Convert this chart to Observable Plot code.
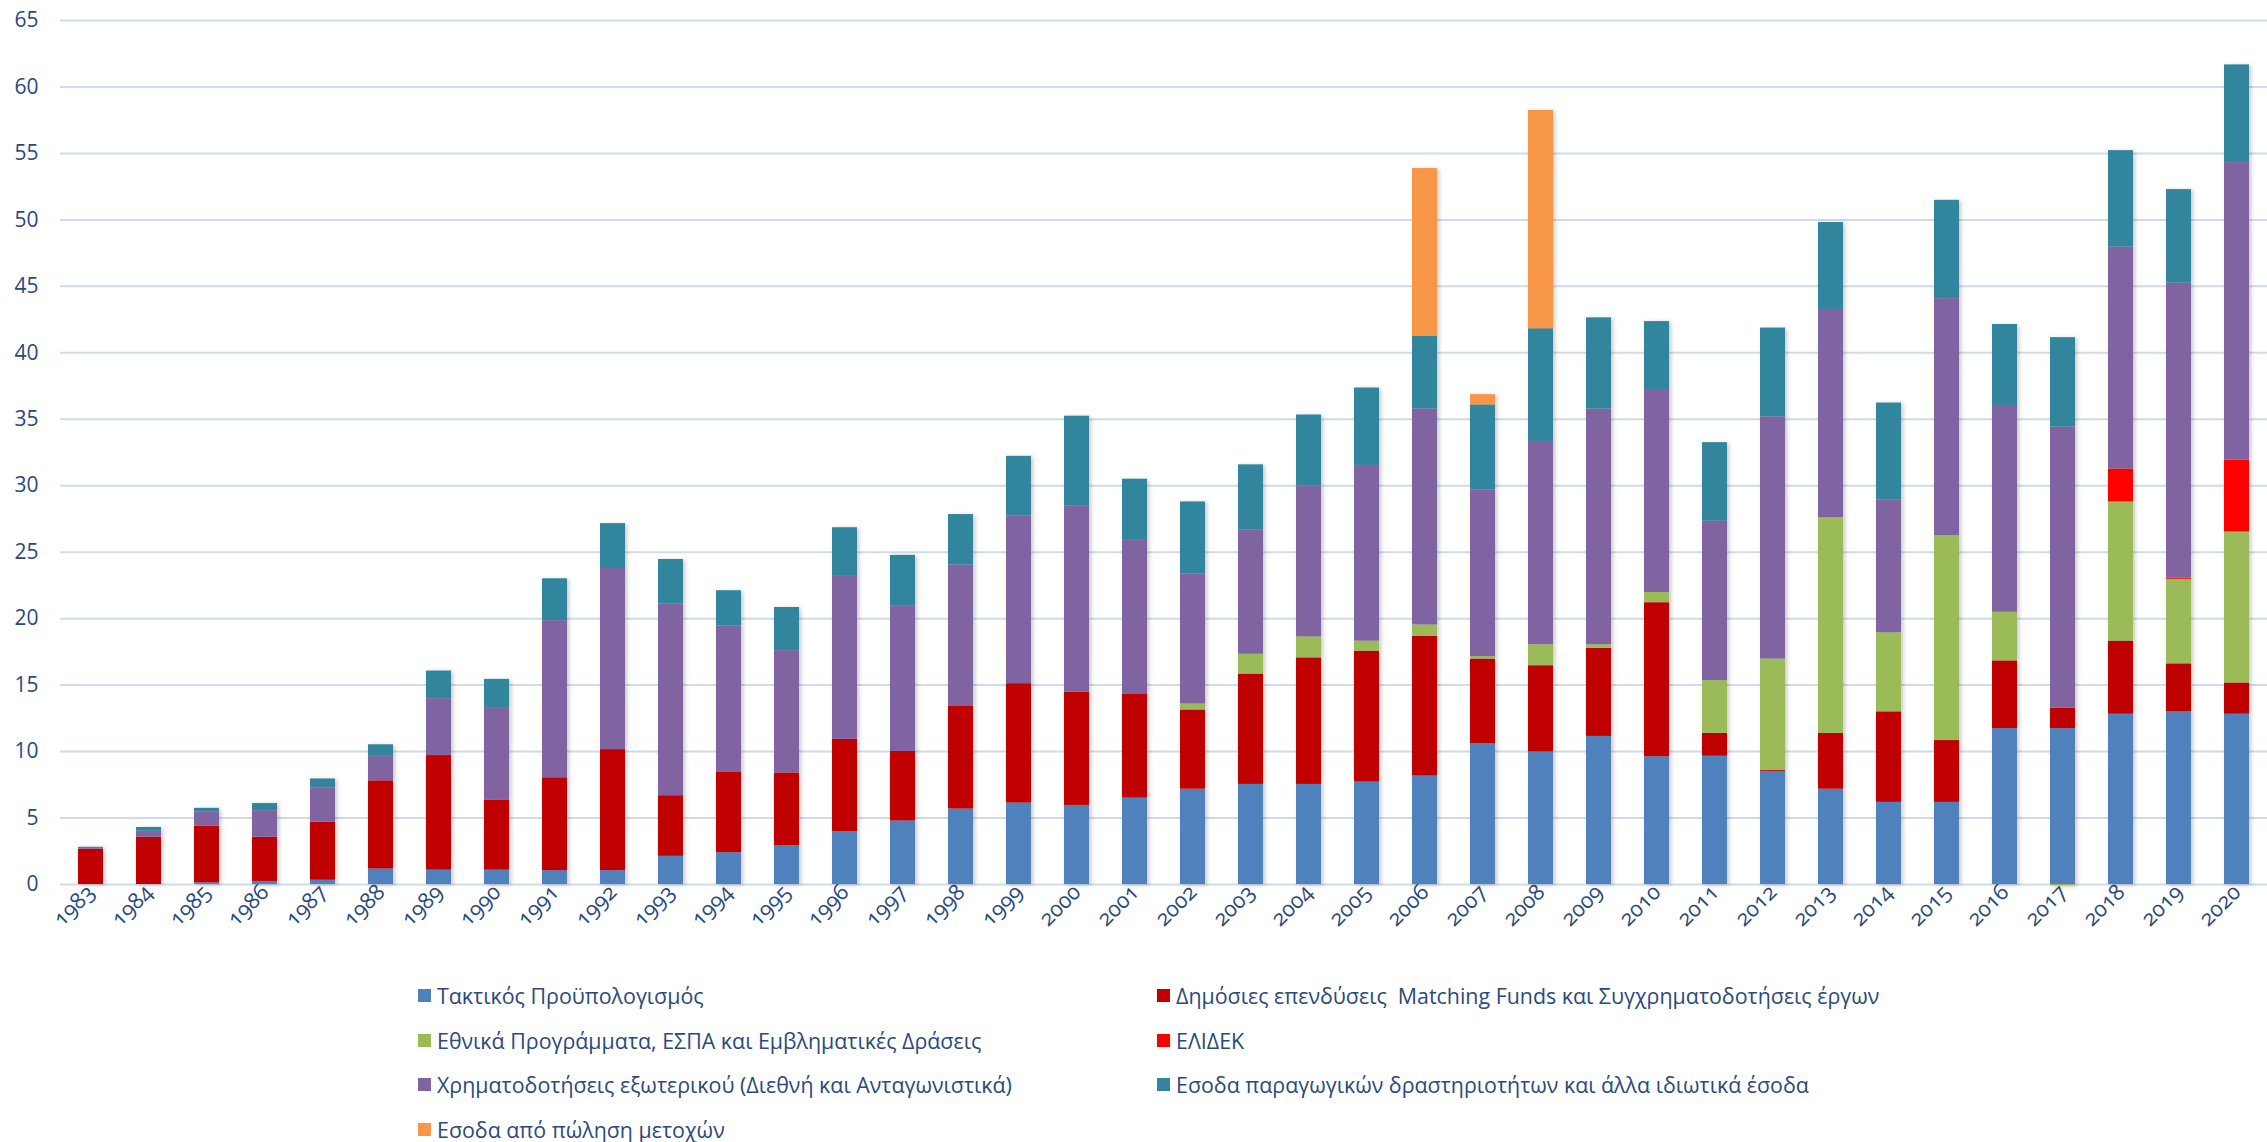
<!DOCTYPE html>
<html><head><meta charset="utf-8">
<script src="https://cdn.jsdelivr.net/npm/d3@7"></script>
<script src="https://cdn.jsdelivr.net/npm/@observablehq/plot@0.6"></script>
<style>
body{margin:0;background:#fff;}
#wrap{position:relative;width:2267px;height:1142px;overflow:hidden;}
#wrap svg{font-variant-numeric:oldstyle-nums;}
#wrap svg g[aria-label="bar"]{filter:drop-shadow(2px 1px 2px rgba(0,0,0,0.22));}
.li{position:absolute;display:flex;align-items:center;font-family:"Open Sans",sans-serif;font-size:21.4px;color:#2a4a7c;white-space:pre;}
.sw{width:13px;height:13px;margin-right:6px;flex:none;}
</style>
</head><body><div id="wrap"></div>
<script>
const years = ["1983","1984","1985","1986","1987","1988","1989","1990","1991","1992","1993","1994","1995","1996","1997","1998","1999","2000","2001","2002","2003","2004","2005","2006","2007","2008","2009","2010","2011","2012","2013","2014","2015","2016","2017","2018","2019","2020"];

const seriesNames = [
  "Τακτικός Προϋπολογισμός",
  "Δημόσιες επενδύσεις  Matching Funds και Συγχρηματοδοτήσεις έργων",
  "Εθνικά Προγράμματα, ΕΣΠΑ και Εμβληματικές Δράσεις",
  "ΕΛΙΔΕΚ",
  "Χρηματοδοτήσεις εξωτερικού (Διεθνή και Ανταγωνιστικά)",
  "Εσοδα παραγωγικών δραστηριοτήτων και άλλα ιδιωτικά έσοδα",
  "Εσοδα από πώληση μετοχών"
];
const seriesColors = ["#4f81bd","#c00000","#9bbb59","#ff0000","#8064a2","#31859c","#f79646"];

const taktikos = [0,0,0.13,0.23,0.32,1.17,1.08,1.08,1.04,1.04,2.12,2.39,2.93,3.97,4.78,5.68,6.13,5.95,6.5,7.17,7.53,7.53,7.71,8.16,10.6,9.97,11.14,9.61,9.65,8.48,7.17,6.18,6.18,11.73,11.73,12.81,12.99,12.81];
const dimosies = [2.65,3.56,4.25,3.33,4.37,6.63,8.62,5.28,6.99,9.11,4.56,6.04,5.46,6.95,5.23,7.76,8.98,8.53,7.84,5.96,8.3,9.52,9.84,10.51,6.36,6.49,6.63,11.59,1.72,0.09,4.2,6.81,4.65,5.09,1.53,5.5,3.61,2.35];
const ethnika = [0,0,0,0,0,0,0,0,0,0,0,0,0,0,0,0,0,0,0,0.45,1.49,1.58,0.76,0.86,0.18,1.58,0.27,0.77,3.97,8.39,16.23,5.95,15.42,3.66,-0.1,10.47,6.36,11.36];
const elidek = [0,0,0,0,0,0,0,0,0,0,0,0,0,0,0,0,0,0,0,0,0,0,0,0,0,0,0,0,0,0,0,0,0,0,0,2.48,0.09,5.41];
const exoterikou = [0.15,0.45,1.08,1.99,2.57,1.9,4.28,6.95,11.82,13.62,14.43,11.01,9.2,12.26,10.92,10.6,12.63,13.98,11.55,9.78,9.34,11.37,13.22,16.24,12.54,15.29,17.73,15.2,11.99,18.22,15.66,9.97,17.82,15.56,21.16,16.69,22.19,22.38];
const paragogikes = [0,0.28,0.27,0.54,0.68,0.81,2.08,2.12,3.15,3.38,3.34,2.66,3.25,3.66,3.83,3.79,4.47,6.77,4.6,5.42,4.91,5.32,5.82,5.46,6.4,8.48,6.86,5.18,5.91,6.68,6.54,7.31,7.4,6.09,6.72,7.26,7.04,7.35];
const metoxes = [0,0,0,0,0,0,0,0,0,0,0,0,0,0,0,0,0,0,0,0,0,0,0,12.63,0.77,16.42,0,0,0,0,0,0,0,0,0,0,0,0];
const yTicks = [0,5,10,15,20,25,30,35,40,45,50,55,60,65];

const seriesValues = [taktikos, dimosies, ethnika, elidek, exoterikou, paragogikes, metoxes];
const rows = [];
years.forEach((yr, i) => {
  seriesValues.forEach((vals, s) => {
    if (vals[i] !== 0) rows.push({year: yr, series: seriesNames[s], value: vals[i]});
  });
});

const textColor = "#2a4a7c";
const chart = Plot.plot({
  width: 2267,
  height: 960,
  marginLeft: 60,
  marginRight: 0,
  marginTop: 20,
  marginBottom: 76,
  style: {fontFamily: "'Open Sans', sans-serif", fontSize: "21px", color: textColor, background: "#fff"},
  x: {domain: years, paddingInner: 0.57, paddingOuter: 0.285, label: null},
  y: {domain: [0, 65], label: null},
  color: {domain: seriesNames, range: seriesColors},
  marks: [
    Plot.gridY(yTicks, {stroke: "#cfdcee", strokeOpacity: 1, strokeWidth: 2}),
    Plot.axisY(yTicks, {tickSize: 0, tickPadding: 22, fontSize: 21, fill: textColor, label: null}),
    Plot.axisX({tickRotate: -45, tickSize: 0, tickPadding: 4, fontSize: 22, fill: textColor, label: null}),
    Plot.barY(rows, Plot.stackY({x: "year", y: "value", fill: "series", order: seriesNames}))
  ]
});
const wrap = document.getElementById("wrap");
wrap.appendChild(chart);

const colX = [418, 1157];
const rowY = [995, 1040, 1084, 1129];
seriesNames.forEach((name, i) => {
  const el = document.createElement("div");
  el.className = "li";
  el.style.left = colX[i % 2] + "px";
  el.style.top = (rowY[Math.floor(i / 2)] - 15) + "px";
  el.style.height = "30px";
  const sw = document.createElement("span");
  sw.className = "sw";
  sw.style.background = seriesColors[i];
  const t = document.createElement("span");
  t.textContent = name;
  el.appendChild(sw);
  el.appendChild(t);
  wrap.appendChild(el);
});
</script>
</body></html>
